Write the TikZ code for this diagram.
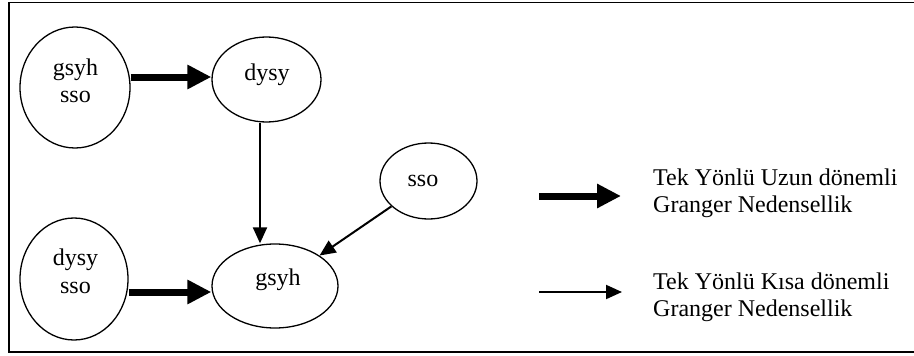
\documentclass[tikz,border=0pt]{standalone}
\usepackage{fontspec}
\setmainfont{Liberation Serif}
\usetikzlibrary{arrows.meta,shapes.geometric}
\tikzset{
  ell/.style={draw, ellipse, line width=1.3pt, inner sep=0pt},
  lbl/.style={inner sep=0pt, anchor=base, font=\fontsize{24}{27}\selectfont},
  legtxt/.style={inner sep=0pt, anchor=base west, font=\fontsize{24}{27}\selectfont},
  thickarr/.style={line width=7pt, -{Triangle[length=24pt,width=23pt]}},
  thinarr/.style={line width=2pt, -{Triangle[length=16pt,width=14pt]}},
}
\begin{document}
\begin{tikzpicture}[x=1pt,y=-1pt]
\useasboundingbox (0,0) rectangle (914,356);
% frame
\draw[line width=1.6pt] (9,2.5) rectangle (920,352);
% ellipses
\node[ell, minimum width=110pt, minimum height=121pt] (e1) at (75,87.5) {};
\node[ell, minimum width=109pt, minimum height=85pt] (e2) at (266.5,79.5) {};
\node[ell, minimum width=108pt, minimum height=122pt] (e3) at (74,279) {};
\node[ell, minimum width=126pt, minimum height=84pt] (g) at (275,286) {};
\node[ell, minimum width=97pt, minimum height=76pt] (s) at (428.5,181) {};
% texts
\node[lbl] (t1a) at (75.5,75) {gsyh};
\node[lbl] (t1b) at (75.5,102) {sso};
\node[lbl] (t2) at (267,80) {dysy};
\node[lbl] (t3a) at (75.5,265) {dysy};
\node[lbl] (t3b) at (75.5,293) {sso};
\node[lbl] (tg) at (278,285) {gsyh};
\node[lbl] (ts) at (423,186) {sso};
% connectors
\draw[thickarr] ([yshift=10.5pt]e1.east) -- ([yshift=2.5pt]e2.west);
\draw[thickarr] ([yshift=-13pt]e3.east) -- ([yshift=-6pt]g.west);
\draw[thinarr] ([xshift=-6.5pt]e2.south) -- ([xshift=-15pt]g.north);
\draw[thinarr] (s) -- (g);
% legend
\coordinate (la1) at (539,196);
\coordinate (lb1) at (621,196);
\coordinate (la2) at (539,292);
\coordinate (lb2) at (622,292);
\draw[thickarr] (la1) -- (lb1);
\draw[thinarr] (la2) -- (lb2);
\node[legtxt] (lt1a) at (653,185) {Tek Yönlü Uzun dönemli};
\node[legtxt] (lt1b) at (653,212) {Granger Nedensellik};
\node[legtxt] (lt2a) at (653,289) {Tek Yönlü Kısa dönemli};
\node[legtxt] (lt2b) at (653,316) {Granger Nedensellik};
\end{tikzpicture}
\end{document}
